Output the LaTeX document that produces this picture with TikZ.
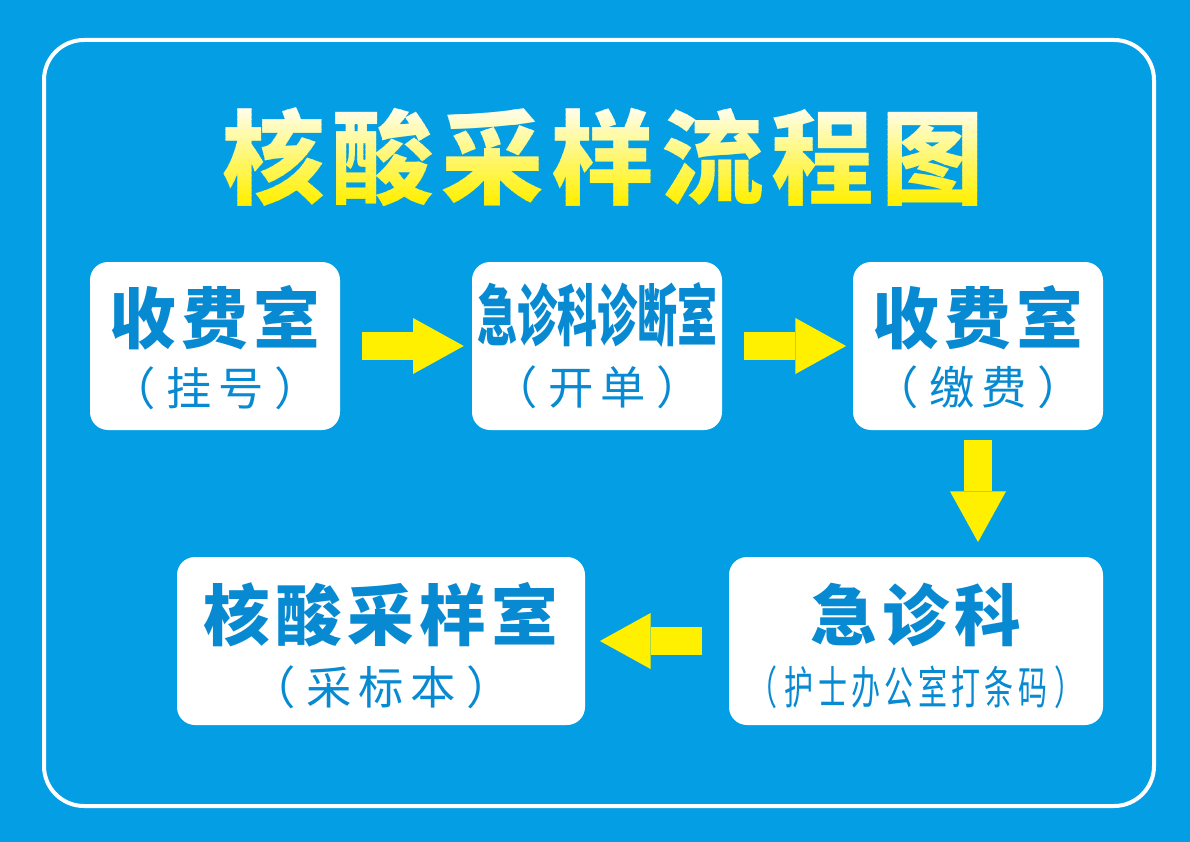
\documentclass[tikz,border=0pt]{standalone}
\usepackage{fontspec,graphicx}
\usetikzlibrary{arrows.meta}
\newfontfamily\cjk{Noto Sans CJK SC}
\newfontfamily\cjkwide{Noto Sans CJK SC}[LetterSpace=8]
\newfontfamily\cjksub{Noto Sans CJK SC}[LetterSpace=15]
\newfontfamily\cjktitle{Noto Sans CJK SC}[LetterSpace=7]
\definecolor{bgblue}{RGB}{4,158,228}
\definecolor{txtblue}{RGB}{8,138,210}
\definecolor{arrowyel}{RGB}{255,240,0}
\newcommand\paren[1]{（\hspace{8pt}#1\hspace{8pt}）}
\tikzset{
  room/.style={fill=white,rounded corners=13.5pt,inner sep=0pt},
  bigtxt/.style={text=txtblue,inner sep=0pt,font=\cjkwide\bfseries\fontsize{50}{50}\selectfont},
  subtxt/.style={text=txtblue,inner sep=0pt,font=\cjksub\fontsize{34}{34}\selectfont},
  titletxt/.style={inner sep=0pt,font=\cjktitle\bfseries\fontsize{77}{77}\selectfont},
  flow/.style={arrowyel,line width=21pt,-{Triangle[width=42pt,length=38pt,line width=0pt]}}
}
\begin{document}
\begin{tikzpicture}[x=0.75pt,y=-0.75pt]
\fill[bgblue](0,0)rectangle(1190,842);
\useasboundingbox(0,0)rectangle(1190,842);
\draw[white,line width=3pt,rounded corners=30pt](44,40)rectangle(1154,806);
% title, white at the top to yellow at the bottom
\path node[titletxt,text opacity=0](title)at(603,157){核酸采样流程图};
\foreach \i in {0,...,21}{
  \pgfmathsetmacro\pct{min(100,\i*5)}
  \begin{scope}
    \clip(0,100+\i*5)rectangle(1190,105+\i*5);
    \node[titletxt,text=arrowyel!\pct!white]at(title.center){核酸采样流程图};
  \end{scope}
}
% rooms
\node[room,minimum width=187.5pt,minimum height=126pt](r1)at(215,346){};
\node[room,minimum width=187.5pt,minimum height=126pt](r2)at(597,346){};
\node[room,minimum width=187.5pt,minimum height=126pt](r3)at(978,346){};
\node[room,minimum width=280.5pt,minimum height=126pt](r4)at(916,641){};
\node[room,minimum width=306pt,minimum height=126pt](r5)at(381,641){};
\node[bigtxt](r1t)at([yshift=21pt]r1.center){收费室};
\node[subtxt](r1s)at([yshift=-32pt]r1.center){\paren{挂号}};
\node[bigtxt,font=\cjk\bfseries\fontsize{50}{50}\selectfont](r2t)at([yshift=23pt]r2.center){\scalebox{0.6}[1]{急诊科诊断室}};
\node[subtxt](r2s)at([yshift=-31pt]r2.center){\paren{开单}};
\node[bigtxt](r3t)at([yshift=21pt]r3.center){收费室};
\node[subtxt](r3s)at([yshift=-31pt]r3.center){\paren{缴费}};
\node[bigtxt](r4t)at([yshift=19.5pt]r4.center){急诊科};
\node[subtxt](r4s)at([yshift=-35pt]r4.center){\scalebox{0.64}[1]{\paren{护士办公室打条码}}};
\node[bigtxt](r5t)at([yshift=19.5pt]r5.center){核酸采样室};
\node[subtxt](r5s)at([yshift=-35pt]r5.center){\paren{采标本}};
% arrows
\draw[flow,shorten <=16.5pt,shorten >=6pt](r1)--(r2);
\draw[flow,shorten <=16.5pt,shorten >=5pt](r2)--(r3);
\draw[flow,shorten <=7.5pt,shorten >=11pt](r3.south)--(r3.south|-r4.north);
\draw[flow,shorten <=20pt,shorten >=11pt](r4)--(r5);
\end{tikzpicture}
\end{document}
